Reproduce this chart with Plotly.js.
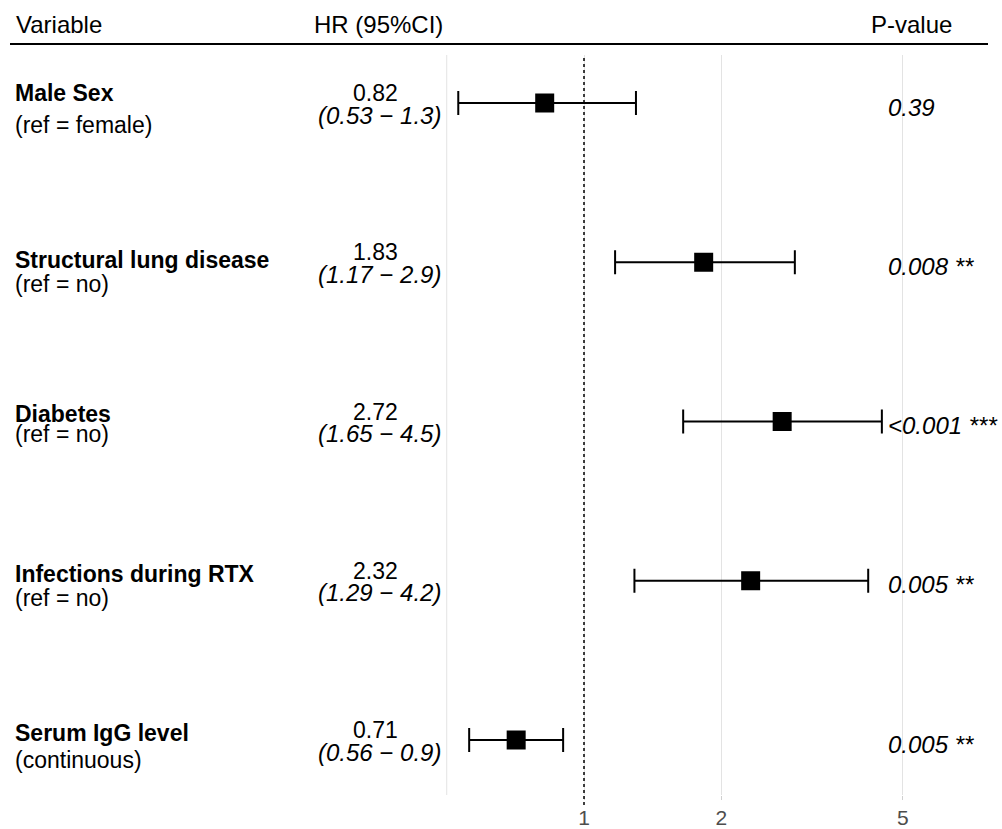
<!DOCTYPE html>
<html>
<head>
<meta charset="utf-8">
<script src="https://cdn.plot.ly/plotly-3.0.1.min.js"></script>
<style>html,body{margin:0;padding:0;background:#fff;}#chart{width:1002px;height:829px;}</style>
</head>
<body>
<div id="chart"></div>
<script>
// ---- data ----
const variables = ["Male Sex", "Structural lung disease", "Diabetes", "Infections during RTX", "Serum IgG level"];
const refLabels = ["(ref = female)", "(ref = no)", "(ref = no)", "(ref = no)", "(continuous)"];
const hr = [0.82, 1.83, 2.72, 2.32, 0.71];
const ciLow = [0.53, 1.17, 1.65, 1.29, 0.56];
const ciHigh = [1.3, 2.9, 4.5, 4.2, 0.9];
const hrText = ["0.82", "1.83", "2.72", "2.32", "0.71"];
const ciText = ["(0.53 \u2212 1.3)", "(1.17 \u2212 2.9)", "(1.65 \u2212 4.5)", "(1.29 \u2212 4.2)", "(0.56 \u2212 0.9)"];
const pText = ["0.39", "0.008 **", "<0.001 ***", "0.005 **", "0.005 **"];
const headers = ["Variable", "HR (95%CI)", "P-value"];
const tickVals = [1, 2, 5];
const tickText = ["1", "2", "5"];

// ---- layout helpers ----
const n = variables.length;
const rowY = variables.map((_, i) => n - i); // top row highest
const W = 1002, H = 829;
const plotTop = 55, plotBottom = 795;
const px1 = 584, pxPerDecade = 456;
const xRange = [(0 - px1) / pxPerDecade, (W - px1) / pxPerDecade];
const rowPxTop = 103, rowPxBottom = 740;
const unit = (rowPxBottom - rowPxTop) / (n - 1);
const yRange = [1 - (plotBottom - rowPxBottom) / unit, n + (rowPxTop - plotTop) / unit];
const paperY = p => (plotBottom - p) / (plotBottom - plotTop);
const FONT = "Liberation Sans, Arial, Helvetica, sans-serif";
const FS_LABEL = 23, FS_EST = 23, FS_CI = 24, FS_P = 24, FS_HEAD = 24;
const nameOff = [-10, -2, -8, -7, -7];
const refOff = [22, 22, 12, 17, 20];

const annotations = [];
// headers
annotations.push({xref:'paper', yref:'paper', x:14/W, y:paperY(25), text:headers[0], showarrow:false, xanchor:'left', yanchor:'middle', font:{family:FONT, size:FS_HEAD, color:'#000'}});
annotations.push({xref:'paper', yref:'paper', x:378/W, y:paperY(25), text:headers[1], showarrow:false, xanchor:'center', yanchor:'middle', font:{family:FONT, size:FS_HEAD, color:'#000'}});
annotations.push({xref:'paper', yref:'paper', x:911/W, y:paperY(25), text:headers[2], showarrow:false, xanchor:'center', yanchor:'middle', font:{family:FONT, size:FS_HEAD, color:'#000'}});

for (let i = 0; i < n; i++) {
  annotations.push({xref:'paper', yref:'y', x:13/W, y:rowY[i], yshift:-nameOff[i], text:'<b>'+variables[i]+'</b>', showarrow:false, xanchor:'left', yanchor:'middle', font:{family:FONT, size:FS_LABEL, color:'#000'}});
  annotations.push({xref:'paper', yref:'y', x:13/W, y:rowY[i], yshift:-refOff[i], text:refLabels[i], showarrow:false, xanchor:'left', yanchor:'middle', font:{family:FONT, size:FS_LABEL, color:'#000'}});
  annotations.push({xref:'paper', yref:'y', x:375/W, y:rowY[i], yshift:10, text:hrText[i], showarrow:false, xanchor:'center', yanchor:'middle', font:{family:FONT, size:FS_EST, color:'#000'}});
  annotations.push({xref:'paper', yref:'y', x:379/W, y:rowY[i], yshift:-12, text:'<i>'+ciText[i]+'</i>', showarrow:false, xanchor:'center', yanchor:'middle', font:{family:FONT, size:FS_CI, color:'#000'}});
  annotations.push({xref:'paper', yref:'y', x:886/W, y:rowY[i], yshift:-4, text:'<i>'+pText[i]+'</i>', showarrow:false, xanchor:'left', yanchor:'middle', font:{family:FONT, size:FS_P, color:'#000'}});
}

const shapes = [
  {type:'line', xref:'paper', yref:'paper', x0:10/W, x1:988/W, y0:paperY(44), y1:paperY(44), line:{color:'#000', width:2}},
  {type:'line', xref:'x', yref:'paper', x0:0.5, x1:0.5, y0:0, y1:1, line:{color:'#e3e3e3', width:1}, layer:'below'},
  {type:'line', xref:'x', yref:'paper', x0:1, x1:1, y0:paperY(805), y1:1, line:{color:'#000', width:1.5, dash:'dot'}}
];

const trace = {
  type:'scatter', mode:'markers',
  x: hr, y: rowY,
  marker:{symbol:'square', size:19, color:'#000'},
  error_x:{type:'data', symmetric:false,
    array: hr.map((v, i) => ciHigh[i] - v),
    arrayminus: hr.map((v, i) => v - ciLow[i]),
    color:'#000', thickness:2, width:12},
  hoverinfo:'skip', showlegend:false
};

const layout = {
  width: W, height: H,
  margin:{l:0, r:0, t:plotTop, b:H - plotBottom},
  paper_bgcolor:'#fff', plot_bgcolor:'#fff',
  showlegend:false,
  xaxis:{type:'log', range:xRange, tickvals:tickVals, ticktext:tickText,
    showgrid:true, gridcolor:'#e3e3e3', gridwidth:1, zeroline:false, showline:false,
    ticks:'outside', ticklen:4, tickcolor:'#d0d0d0', tickfont:{family:FONT, size:21, color:'#4d4d4d'}, fixedrange:true},
  yaxis:{range:yRange, showgrid:false, zeroline:false, showline:false, showticklabels:false, ticks:'', fixedrange:true},
  annotations: annotations,
  shapes: shapes
};

Plotly.newPlot('chart', [trace], layout, {displayModeBar:false, staticPlot:true});
</script>
</body>
</html>
